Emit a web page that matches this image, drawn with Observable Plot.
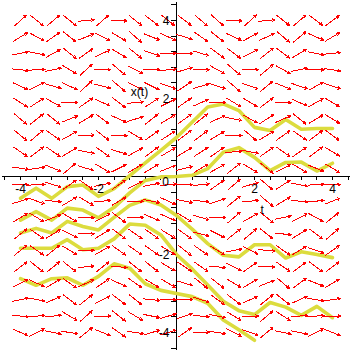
<!DOCTYPE html>
<html><head><meta charset="utf-8">
<script src="https://cdn.jsdelivr.net/npm/d3@7"></script>
<script src="https://cdn.jsdelivr.net/npm/@observablehq/plot@0.6"></script>
<style>body{margin:0;background:#fff;}</style>
</head><body><div id="chart"></div>
<script>
// direction-field grid (20 x 20)
const tGrid = [-4, -3.579, -3.158, -2.737, -2.316, -1.895, -1.474, -1.053, -0.632, -0.211, 0.211, 0.632, 1.053, 1.474, 1.895, 2.316, 2.737, 3.158, 3.579, 4];
const xGrid = [4, 3.579, 3.158, 2.737, 2.316, 1.895, 1.474, 1.053, 0.632, 0.211, -0.211, -0.632, -1.053, -1.474, -1.895, -2.316, -2.737, -3.158, -3.579, -4];
// slope (rows top -> bottom, columns left -> right)
const slopeRows = [
  [0.9, -0.8, 0.85, -0.8, 0.1, 0.9, -0.05, -0.8, -0.75, -0.8, -0.75, -0.85, -0.9, -0.05, 0.9, 0.1, -0.8, 0.85, -0.75, 0.75],
  [0.6, -0.55, 0.7, -0.8, 0.4, -0.5, -0.6, -0.9, -0.4, -0.45, -0.3, -0.7, -0.8, -0.45, 0.55, 0.45, -0.85, 0.85, -0.45, 0.6],
  [0.2, -0.2, 0.55, -0.8, 0.7, 0.45, -0.6, -0.8, -0.35, 0, 0, -0.3, -0.75, -0.75, 0.5, 0.8, -0.75, 0.6, -0.2, 0.1],
  [-0.1, 0.05, 0.2, -0.6, 0.9, 0, -0.85, -0.5, 0, 0.1, 0.3, 0, -0.55, -0.85, 0, 0.85, -0.55, 0.2, 0, -0.15],
  [-0.45, 0.5, -0.3, -0.45, 0.9, -0.25, -0.85, -0.5, -0.5, -0.35, 0.65, 0.3, -0.35, -0.85, -0.35, 0.85, -0.4, -0.35, 0.55, -0.35],
  [-0.65, 0.65, -0.55, 0, 0.7, -0.45, -0.75, 0.1, 0.65, 0.5, 0.7, 0.45, 0, -0.6, -0.6, 0.75, 0, -0.45, 0.55, -0.6],
  [-0.85, 0.8, -0.8, 0.4, 0.6, -0.75, -0.45, 0.3, 0.8, 0.6, 0.7, 0.8, 0.45, -0.2, -0.55, 0.65, 0.45, -0.8, 0.6, -0.6],
  [-0.85, 0.85, -0.7, 0.55, 0.05, -0.8, -0.05, -0.6, 0.7, 0.65, 0.75, 0.75, 0.6, 0, -0.85, 0.6, 0.7, -0.7, 0.75, -0.75],
  [-0.7, 0.75, -0.7, 0.6, -0.2, -0.7, -0.3, 0.55, 0.75, 0.6, 0.6, 0.65, 0.7, 0.1, -0.2, 0.7, -0.7, 0.7, 0.75, -0.6],
  [-0.15, 0.15, -0.4, 0.85, -0.3, -0.6, 0.5, 0.6, 0.6, 0.4, 0.25, 0.6, 0.55, 0.8, -0.6, -0.8, 0.5, -0.6, -0.4, -0.6],
  [0, 0.05, -0.3, 0.7, -0.7, 0.2, 0.7, 0.5, 0.2, 0.1, 0, 0.1, 0.7, 0.85, 0.3, -0.85, 0.65, -0.2, 0.05, 0],
  [0.3, -0.35, -0.1, 0.6, -0.6, 0.1, 0.6, 0, -0.2, -0.45, -0.2, -0.1, 0.35, 0.8, 0.1, -0.85, 0.6, -0.1, 0.1, 0.4],
  [0.6, -0.6, 0.4, -0.6, 0, 0.5, -0.75, 0, -0.45, -0.45, -0.6, -0.3, 0, 0.85, 0.55, -0.8, 0.2, 0.5, -0.55, 0.8],
  [0.8, -0.7, 0.6, -0.5, 0, 0.6, -0.75, -0.7, -0.7, -0.6, -0.7, -0.25, -0.5, 0.8, 0.85, -0.8, -0.1, 0.6, -0.75, 0.85],
  [0.8, -0.7, 0.8, -0.6, 0, 0.55, -0.7, -0.7, -0.7, -0.6, -0.8, -0.7, -0.6, 0.2, -0.5, -0.1, -0.7, 0.6, -0.35, 0.7],
  [0.8, -0.8, 0.8, -0.8, 0.1, 0.8, -0.1, -0.8, -0.8, -0.6, -0.65, -0.7, -0.1, -0.5, 0.7, 0, -0.7, 0.75, -0.75, 0.75],
  [0.5, -0.45, 0.6, -0.7, 0.45, 0.7, -0.45, -0.7, -0.6, -0.6, -0.3, -0.8, -0.8, -0.6, 0.6, 0.4, -0.85, 0.75, -0.4, 0.6],
  [0.2, -0.2, 0.45, -0.75, 0.8, 0.5, -0.75, -0.8, -0.1, 0, 0, -0.3, -0.7, -0.75, 0.45, 0.8, -0.8, 0.45, -0.15, 0.15],
  [-0.1, 0.1, 0.1, -0.6, 0.9, 0, -0.8, -0.6, -0.2, 0.3, 0.35, -0.1, -0.2, -0.6, 0, 0.85, -0.65, 0.1, 0.05, 0],
  [-0.45, 0.5, -0.2, -0.15, 0.8, -0.4, -0.7, -0.15, 0.3, 0.3, 0.7, 0.05, -0.15, -0.5, -0.35, 0.85, -0.2, -0.2, 0.5, -0.4]
];
// solution curves, sampled at the solver steps
const stepT = [-4, -3.6, -3.2, -2.8, -2.4, -2, -1.6, -1.2, -0.8, -0.4, 0, 0.4, 0.8, 1.2, 1.6, 2, 2.4, 2.8, 3.2, 3.6, 4];
const solX0p1 = [-0.56, -0.30, -0.56, -0.26, -0.22, -0.51, -0.31, 0.02, 0.35, 0.67, 1.0, 1.39, 1.78, 1.86, 1.69, 1.26, 1.18, 1.46, 1.21, 1.23, 1.23];
const solX00  = [-1.12, -0.9, -1.12, -0.81, -0.86, -1.06, -0.79, -0.42, -0.1, -0.01, 0, 0.03, 0.2, 0.62, 0.74, 0.49, 0.15, 0.36, 0.37, 0.14, 0.34];
const solX0m1 = [-1.45, -1.33, -1.45, -1.15, -1.28, -1.37, -1.05, -0.74, -0.6, -0.73, -1.0, -1.35, -1.72, -2.02, -2.06, -1.75, -1.75, -2.09, -1.93, -2.0, -2.08];
const solX0m2 = [-1.84, -1.84, -1.84, -1.62, -1.88, -1.84, -1.6, -1.22, -1.25, -1.5, -2.0, -2.37, -2.78, -3.2, -3.44, -3.54, -3.23, -3.35, -3.56, -3.33, -3.62];
const solX0m3 = [-2.62, -2.79, -2.62, -2.6, -2.79, -2.56, -2.24, -2.35, -2.75, -2.92, -3.0, -3.08, -3.25, -3.68, -3.93, -4.2];
const tickVals = [-4.4, -4, -3.6, -3.2, -2.8, -2.4, -2, -1.6, -1.2, -0.8, -0.4, 0.4, 0.8, 1.2, 1.6, 2, 2.4, 2.8, 3.2, 3.6, 4, 4.4];
const tickLabels = [-4, -2, 2, 4];

const HALF = 0.21; // half arrow length, data units
const arrows = [];
xGrid.forEach((xv, i) => tGrid.forEach((tv, j) => {
  const s = slopeRows[i][j];
  const h = HALF / Math.hypot(1, s);
  arrows.push({x1: tv - h, y1: xv - s * h, x2: tv + h, y2: xv + s * h});
}));
const curves = [];
[solX0p1, solX00, solX0m1, solX0m2, solX0m3].forEach((arr, k) =>
  arr.forEach((v, i) => curves.push({t: stepT[i], x: v, id: k})));

const chart = Plot.plot({
  width: 352, height: 352, margin: 0,
  x: {domain: [-4.513, 4.513], axis: null},
  y: {domain: [-4.513, 4.513], axis: null},
  style: {fontFamily: "'Liberation Sans', Arial, sans-serif", fontSize: "12px", background: "#fff"},
  marks: [
    Plot.ruleY([0], {x1: -4.45, x2: 4.45, stroke: "#000", strokeWidth: 1, shapeRendering: "crispEdges"}),
    Plot.ruleX([0], {y1: -4.45, y2: 4.45, stroke: "#000", strokeWidth: 1, shapeRendering: "crispEdges"}),
    Plot.ruleX(tickVals, {x: d => d, y1: 0, y2: -0.11, stroke: "#000", shapeRendering: "crispEdges"}),
    Plot.ruleY(tickVals, {y: d => d, x1: -0.13, x2: 0, stroke: "#000", shapeRendering: "crispEdges"}),
    Plot.line(curves, {x: "t", y: "x", z: "id", stroke: "#dcdc3e", strokeWidth: 3.6, strokeLinejoin: "round", strokeLinecap: "round"}),
    Plot.arrow(arrows, {x1: "x1", y1: "y1", x2: "x2", y2: "y2", stroke: "#ff0000", strokeWidth: 1, headLength: 4.5, headAngle: 50, shapeRendering: "crispEdges"}),
    Plot.text(tickLabels, {x: d => d, y: 0, text: d => String(d), dy: 13, fill: "#000"}),
    Plot.text(tickLabels, {x: 0, y: d => d, text: d => String(d), textAnchor: "end", dx: -7, dy: 1, fill: "#000"}),
    Plot.text(["0"], {x: 0, y: 0, text: d => d, dx: -11, dy: 6, fill: "#000"}),
    Plot.text(["x(t)"], {x: -0.95, y: 2.16, text: d => d, fill: "#000"}),
    Plot.text(["t"], {x: 2.2, y: -0.87, text: d => d, fill: "#000"})
  ]
});
document.getElementById("chart").appendChild(chart);
</script>
</body></html>
